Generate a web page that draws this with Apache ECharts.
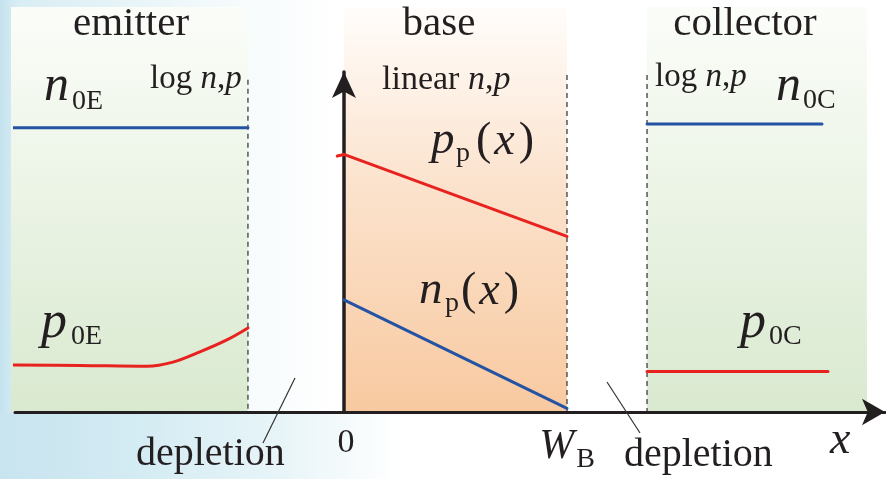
<!DOCTYPE html>
<html><head><meta charset="utf-8">
<script src="https://cdn.jsdelivr.net/npm/echarts@6/dist/echarts.min.js"></script>
<style>html,body{margin:0;padding:0;background:#fff}#c{width:886px;height:479px}</style>
</head><body><div id="c"></div>
<script>
// x measured in units of the base width (0 .. W_B = 1); y in arbitrary concentration units
const xRange = [-1.475, 2.426];
const yRange = [0, 8.25];
const tickValues = [0, 1];
const tickLabels = ['0', 'W_B'];

const regionNames = ['emitter', 'base', 'collector'];
const regionStart = [-1.493, 0, 1.359];
const regionEnd = [-0.4305, 1, 2.345];
const regionTop = [9.83, 9.83, 9.83];

const boundaryX = [-0.4305, 1, 1.359];
const boundaryTop = [8.06, 8.18, 8.18];

const n0E_x = [-1.489, -0.4305];
const n0E_y = [6.90, 6.90];
const p0E_x = [-1.484, -1.184, -0.883, -0.767, -0.646, -0.525, -0.4305];
const p0E_y = [1.14, 1.13, 1.11, 1.21, 1.46, 1.75, 2.04];
const pp_x = [-0.03, 0, 1];
const pp_y = [6.21, 6.25, 4.26];
const np_x = [0, 1];
const np_y = [2.72, 0.09];
const n0C_x = [1.359, 2.1435];
const n0C_y = [6.99, 6.99];
const p0C_x = [1.359, 2.170];
const p0C_y = [0.98, 0.98];

const FONT = 'Liberation Serif';
const INK = '#231f20';
const BLUE = '#2553a3';
const RED = '#e8231f';

const zip = (a, b) => a.map((v, i) => [v, b[i]]);
const grad = (c0, c1, mid) => ({
  type: 'linear', x: 0, y: 0, x2: 0, y2: 1,
  colorStops: mid ? [{offset: 0, color: c0}, {offset: 0.45, color: mid}, {offset: 1, color: c1}]
                  : [{offset: 0, color: c0}, {offset: 1, color: c1}]
});
const regionFill = [
  grad('#fbfdf9', '#d9e9cf'),
  grad('#fffdfb', '#f8c9a0', '#fbe2cc'),
  grad('#fbfdf9', '#d9e9cf')
];

const BASE_K = 0.26;
function txt(x, base, str, size, opts) {
  opts = opts || {};
  return {
    type: 'text', x: x, y: base - BASE_K * size, z: 10, silent: true,
    style: {
      text: str, fontSize: size, fontFamily: FONT,
      fontStyle: opts.italic ? 'italic' : 'normal',
      fill: INK, align: opts.align || 'left', verticalAlign: 'middle'
    }
  };
}
function rtxt(x, base, str, size, opts) {
  opts = opts || {};
  return {
    type: 'text', x: x, y: base - BASE_K * size, z: 10, silent: true,
    style: {
      text: str, fontSize: size, fontFamily: FONT, fill: INK,
      align: opts.align || 'left', verticalAlign: 'middle',
      rich: {
        r: {fontSize: size, fontFamily: FONT, fill: INK},
        i: {fontSize: size, fontFamily: FONT, fill: INK, fontStyle: 'italic'},
        ix: {fontSize: size, fontFamily: FONT, fill: INK, fontStyle: 'italic', padding: [0, 4, 0, 3]}
      }
    }
  };
}

const chart = echarts.init(document.getElementById('c'));

const lineSeries = (name, xs, ys, color, smooth) => ({
  type: 'line', name: name, data: zip(xs, ys), showSymbol: false, symbol: 'none',
  smooth: smooth || false, clip: false, z: 6, silent: true,
  lineStyle: {color: color, width: 3, cap: 'round'}
});

const option = {
  animation: false,
  grid: {left: 15, right: 1, top: 72, bottom: 67},
  xAxis: {
    type: 'value', min: xRange[0], max: xRange[1], z: 5,
    axisLine: {show: true, onZero: true, symbol: ['none', 'arrow'], symbolSize: [20, 23],
      lineStyle: {color: INK, width: 3}},
    axisTick: {show: false},
    splitLine: {show: false},
    axisLabel: {
      show: true, customValues: tickValues, margin: 14, color: INK,
      formatter: function (v) {
        const i = tickValues.indexOf(v);
        const s = tickLabels[i];
        if (s === 'W_B') return '{w|W}{b|B}';
        return '{z|' + s + '}';
      },
      rich: {
        z: {fontSize: 34, fontFamily: FONT, color: INK, verticalAlign: 'top', padding: [0, 0, 0, 4]},
        w: {fontSize: 42, fontFamily: FONT, fontStyle: 'italic', color: INK, verticalAlign: 'top'},
        b: {fontSize: 28, fontFamily: FONT, color: INK, verticalAlign: 'top', padding: [20, 0, 0, 2]}
      }
    }
  },
  yAxis: {
    type: 'value', min: yRange[0], max: yRange[1], z: 5,
    axisLine: {show: true, onZero: true, symbol: ['none', 'arrow'], symbolSize: [18, 26],
      lineStyle: {color: INK, width: 3.5}},
    axisTick: {show: false}, axisLabel: {show: false}, splitLine: {show: false}
  },
  series: [
    {
      type: 'custom', name: 'regions', z: 1, clip: false, silent: true,
      data: regionNames.map((n, i) => [regionStart[i], regionEnd[i], regionTop[i]]),
      encode: {x: [0, 1], y: 2},
      renderItem: function (params, api) {
        const i = params.dataIndex;
        const a = api.coord([api.value(0), api.value(2)]);
        const b = api.coord([api.value(1), 0]);
        return {type: 'rect', shape: {x: a[0], y: a[1], width: b[0] - a[0], height: b[1] - a[1]},
          style: {fill: regionFill[i]}};
      }
    },
    {
      type: 'custom', name: 'boundaries', z: 2, clip: false, silent: true,
      data: boundaryX.map((x, i) => [x, boundaryTop[i]]),
      encode: {x: 0, y: 1},
      renderItem: function (params, api) {
        const a = api.coord([api.value(0), api.value(1)]);
        const b = api.coord([api.value(0), 0]);
        return {type: 'line', shape: {x1: a[0], y1: a[1], x2: b[0], y2: b[1]},
          style: {stroke: '#555', lineWidth: 1.5, lineDash: [5, 4]}};
      }
    },
    lineSeries('n0E', n0E_x, n0E_y, BLUE),
    lineSeries('p0E', p0E_x, p0E_y, RED, 0.35),
    lineSeries('pp', pp_x, pp_y, RED),
    lineSeries('np', np_x, np_y, BLUE),
    lineSeries('n0C', n0C_x, n0C_y, BLUE),
    lineSeries('p0C', p0C_x, p0C_y, RED)
  ],
  graphic: [
    {type: 'rect', z: -100, silent: true, shape: {x: 0, y: 0, width: 886, height: 479},
      style: {fill: {type: 'linear', x: 0, y: 0, x2: 1, y2: 0, colorStops: [
        {offset: 0, color: '#c4e2ee'}, {offset: 0.02, color: '#d8edf4'},
        {offset: 0.25, color: '#f4fafb'}, {offset: 0.38, color: '#ffffff'}, {offset: 1, color: '#ffffff'}]}}},
    {type: 'rect', z: -99, silent: true, shape: {x: 0, y: 414, width: 886, height: 65},
      style: {fill: {type: 'linear', x: 0, y: 0, x2: 1, y2: 0, colorStops: [
        {offset: 0, color: '#c8e4ef'}, {offset: 0.15, color: '#d3ebf3'},
        {offset: 0.32, color: '#e8f5f8'}, {offset: 0.45, color: '#ffffff'}, {offset: 1, color: '#ffffff'}]}}},
    txt(131, 35, 'emitter', 41, {align: 'center'}),
    txt(439, 35, 'base', 41, {align: 'center'}),
    txt(745, 35, 'collector', 41, {align: 'center'}),
    rtxt(150, 88, '{r|log }{i|n}{r|,}{i|p}', 33),
    rtxt(382, 89, '{r|linear }{i|n}{r|,}{i|p}', 34),
    rtxt(655, 86, '{r|log }{i|n}{r|,}{i|p}', 33),
    txt(44, 100, 'n', 50, {italic: true}),
    txt(72, 109, '0E', 28),
    txt(776, 100, 'n', 50, {italic: true}),
    txt(803, 108, '0C', 28),
    txt(41, 337, 'p', 52, {italic: true}),
    txt(71, 344, '0E', 28),
    txt(740, 337, 'p', 52, {italic: true}),
    txt(769, 344, '0C', 28),
    txt(431, 153, 'p', 47, {italic: true}),
    txt(456, 161, 'p', 28),
    rtxt(476, 154, '{r|(}{ix|x}{r|)}', 46),
    txt(419, 303, 'n', 47, {italic: true}),
    txt(445, 311, 'p', 28),
    rtxt(461, 304, '{r|(}{ix|x}{r|)}', 46),
    txt(830, 453, 'x', 46, {italic: true}),
    txt(136, 465, 'depletion', 40),
    txt(624, 466, 'depletion', 40),
    {type: 'line', z: 10, silent: true, shape: {x1: 295, y1: 378, x2: 263, y2: 443},
      style: {stroke: '#333', lineWidth: 1.2}},
    {type: 'line', z: 10, silent: true, shape: {x1: 607, y1: 382, x2: 640, y2: 433},
      style: {stroke: '#333', lineWidth: 1.2}}
  ]
};
chart.setOption(option);
</script></body></html>
